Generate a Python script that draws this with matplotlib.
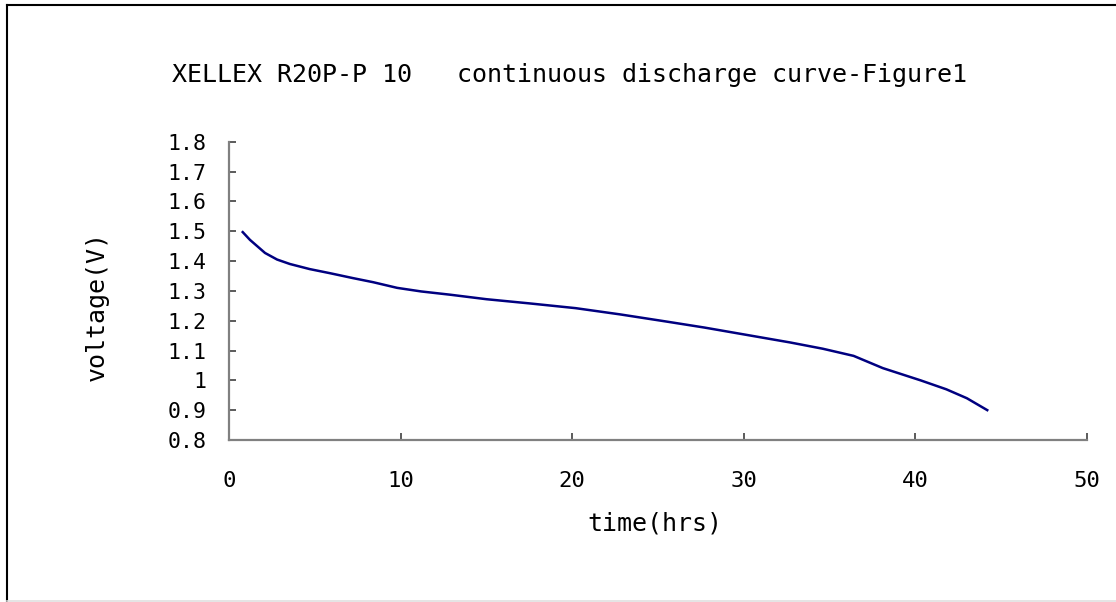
import matplotlib
matplotlib.use("Agg")
import matplotlib.pyplot as plt
from matplotlib.lines import Line2D

# Data
time_hrs = [0.75, 1.22, 1.6, 2.1, 2.8, 3.55, 4.7, 5.9, 7.2, 8.4, 9.8, 11.2,
            12.9, 15.0, 17.5, 20.2, 22.8, 25.5, 27.7, 29.8, 32.7, 34.6,
            36.4, 38.1, 40.3, 41.8, 43.0, 44.25]
voltage = [1.50, 1.471, 1.452, 1.427, 1.405, 1.390, 1.373, 1.359, 1.343,
           1.329, 1.310, 1.298, 1.287, 1.272, 1.258, 1.242, 1.221, 1.197,
           1.177, 1.156, 1.127, 1.106, 1.082, 1.041, 1.0, 0.970, 0.940, 0.898]
y_ticks = [0.8, 0.9, 1.0, 1.1, 1.2, 1.3, 1.4, 1.5, 1.6, 1.7, 1.8]
y_tick_labels = ["0.8", "0.9", "1", "1.1", "1.2", "1.3", "1.4", "1.5", "1.6", "1.7", "1.8"]
x_ticks = [0, 10, 20, 30, 40, 50]
x_tick_labels = ["0", "10", "20", "30", "40", "50"]
title = "XELLEX R20P-P 10   continuous discharge curve-Figure1"

plt.rcParams['font.family'] = ['DejaVu Sans Mono']

W, H = 1116, 602
fig = plt.figure(figsize=(W / 100, H / 100), dpi=100)
fig.patch.set_facecolor('white')

ax = fig.add_axes([229 / W, 1 - 440 / H, (1087 - 229) / W, (440 - 141.7) / H])
ax.plot(time_hrs, voltage, color='#000080', lw=1.8, solid_capstyle='butt',
        solid_joinstyle='round')

ax.set_xlim(0, 50)
ax.set_ylim(0.8, 1.8)
ax.set_xticks(x_ticks)
ax.set_xticklabels(x_tick_labels)
ax.set_yticks(y_ticks)
ax.set_yticklabels(y_tick_labels)

for s in ['top', 'right']:
    ax.spines[s].set_visible(False)
for s in ['left', 'bottom']:
    ax.spines[s].set_color('#808080')
    ax.spines[s].set_linewidth(1.6)

ax.tick_params(axis='x', direction='in', length=5, width=1.2, color='#404040',
               labelsize=16, pad=22)
ax.tick_params(axis='y', direction='in', length=5, width=1.2, color='#404040',
               labelsize=15.5, pad=16)

ax.set_xlabel('time(hrs)', fontsize=18, va='center')
ax.xaxis.set_label_coords((655 - 229) / 858, (440 - 523) / 298.3)
ax.set_ylabel('voltage(V)', fontsize=18, va='center')
ax.yaxis.set_label_coords((97 - 229) / 858, (440 - 306) / 298.3)

fig.text(570 / W, 1 - 75 / H, title, fontsize=18, ha='center', va='center')

# outer frame (left/top black, bottom light gray)
fig.add_artist(Line2D([7 / W, 7 / W], [0, 1 - 5 / H], transform=fig.transFigure,
                      color='black', lw=1.5))
fig.add_artist(Line2D([7 / W, 1], [1 - 5 / H, 1 - 5 / H], transform=fig.transFigure,
                      color='black', lw=1.5))
fig.add_artist(Line2D([7 / W, 1], [1 - 600.5 / H, 1 - 600.5 / H], transform=fig.transFigure,
                      color='#e0e0e0', lw=1.2))

fig.savefig('out.png', dpi=100, facecolor='white')
